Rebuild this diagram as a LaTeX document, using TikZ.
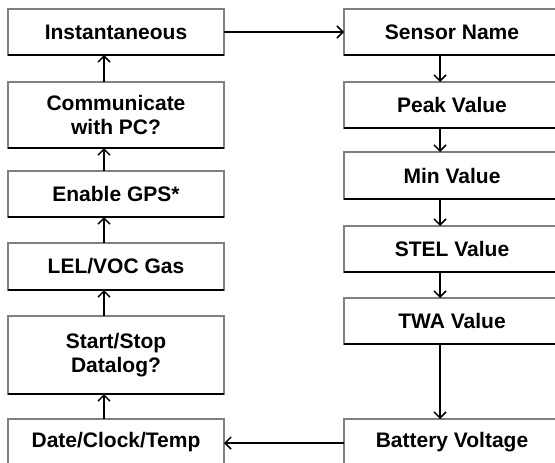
\documentclass[tikz,border=0pt]{standalone}
\usepackage{fontspec}
\setmainfont{Liberation Sans}
\usetikzlibrary{arrows.meta}
\tikzset{
  menubox/.style={draw=black!50, line width=1.8pt, outer sep=0pt, fill=white,
    minimum width=216pt, align=center, font=\fontsize{21}{23.5}\selectfont\bfseries},
  flow/.style={line width=1.8pt, -{Straight Barb[length=6pt,width=12pt,line width=1.5pt]}}
}
\def\boxfloor#1{\draw[line width=1.8pt] (#1.south west) -- (#1.south east);}

\begin{document}
\begin{tikzpicture}[x=1pt,y=-1pt]
			%%%%% START %%%%%
			\useasboundingbox (0,0) rectangle (555,463);
			
			% left column
			\node[menubox, minimum height=46pt] (inst) at (116, 32) {Instantaneous};
			\node[menubox, minimum height=66pt] (comm) at (116, 115) {Communicate\\with PC?};
			\node[menubox, minimum height=46pt] (gps) at (116, 194) {Enable GPS*};
			\node[menubox, minimum height=47pt] (lel) at (116, 266.5) {LEL/VOC Gas};
			\node[menubox, minimum height=78pt] (dlog) at (116, 355) {Start/Stop\\Datalog?};
			\node[menubox, minimum height=46pt] (date) at (116, 442) {Date/Clock/Temp};
			
			% right column
			\node[menubox, minimum height=46pt] (sensor) at (452, 32) {Sensor Name};
			\node[menubox, minimum height=46pt] (peak) at (452, 105) {Peak Value};
			\node[menubox, minimum height=47pt] (minval) at (452, 175.5) {Min Value};
			\node[menubox, minimum height=46pt] (stel) at (452, 249) {STEL Value};
			\node[menubox, minimum height=46pt] (twa) at (452, 321) {TWA Value};
			\node[menubox, minimum height=46pt] (batt) at (452, 442) {Battery Voltage};
			
			\boxfloor{inst} \boxfloor{comm} \boxfloor{gps}
			\boxfloor{lel} \boxfloor{dlog} \boxfloor{date}
			\boxfloor{sensor} \boxfloor{peak} \boxfloor{minval}
			\boxfloor{stel} \boxfloor{twa} \boxfloor{batt}
			
			% arrows
			\draw[flow] (inst.east) -- (sensor.west);
			\draw[flow] ([xshift=-12pt]sensor.south) -- ([xshift=-12pt]peak.north);
			\draw[flow] ([xshift=-12pt]peak.south) -- ([xshift=-12pt]minval.north);
			\draw[flow] ([xshift=-12pt]minval.south) -- ([xshift=-12pt]stel.north);
			\draw[flow] ([xshift=-12pt]stel.south) -- ([xshift=-12pt]twa.north);
			\draw[flow] ([xshift=-12pt]twa.south) -- ([xshift=-12pt]batt.north);
			\draw[flow] ([yshift=-1pt]batt.west) -- ([yshift=-1pt]date.east);
			\draw[flow] ([xshift=-12pt]date.north) -- ([xshift=-12pt]dlog.south);
			\draw[flow] ([xshift=-12pt]dlog.north) -- ([xshift=-12pt]lel.south);
			\draw[flow] ([xshift=-12pt]lel.north) -- ([xshift=-12pt]gps.south);
			\draw[flow] ([xshift=-12pt]gps.north) -- ([xshift=-12pt]comm.south);
			\draw[flow] ([xshift=-12pt]comm.north) -- ([xshift=-12pt]inst.south);
			
			%%%%% END %%%%%
		\end{tikzpicture}
\end{document}
